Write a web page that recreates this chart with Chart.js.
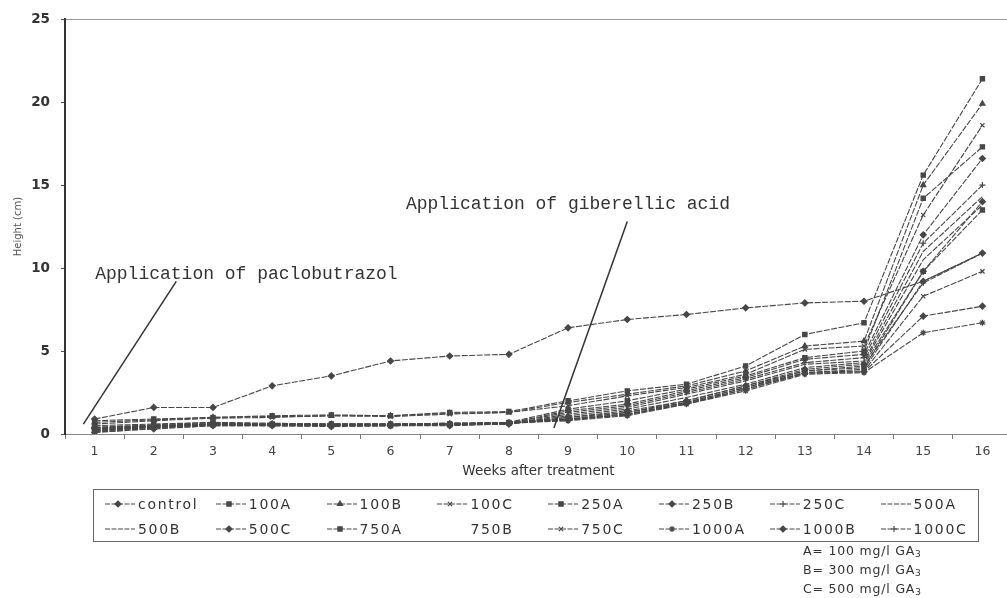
<!DOCTYPE html>
<html><head><meta charset="utf-8">
<script src="https://cdn.jsdelivr.net/npm/chart.js@4.4.0/dist/chart.umd.min.js"></script>
<style>
html,body{margin:0;padding:0;background:#fff;overflow:hidden;width:1007px;height:598px;}
#wrap{position:absolute;left:0;top:0;width:1020px;height:598px;}
#legend{position:absolute;left:93px;top:489px;width:886px;height:53px;border:1px solid #666;box-sizing:border-box;font-family:'DejaVu Sans',sans-serif;font-size:14px;color:#333;letter-spacing:1.7px;}
.item{position:absolute;height:16px;display:flex;align-items:center;white-space:nowrap;}
.item canvas{margin-right:2px;}
#note{position:absolute;left:803px;top:542px;font-family:'DejaVu Sans',sans-serif;font-size:12.5px;color:#333;line-height:18px;letter-spacing:0.8px;}
#note sub{font-size:9px;vertical-align:baseline;position:relative;top:2px;}
</style></head><body>
<div id="wrap"><canvas id="c"></canvas></div>
<div id="legend"></div>
<div id="note">A= 100 mg/l GA<sub>3</sub><br>B= 300 mg/l GA<sub>3</sub><br>C= 500 mg/l GA<sub>3</sub></div>
<script>
// ---- data ----
const weeks = ['1','2','3','4','5','6','7','8','9','10','11','12','13','14','15','16'];
const yTicks = [0,5,10,15,20,25];
const seriesNames = ['control','100A','100B','100C','250A','250B','250C','500A','500B','500C','750A','750B','750C','1000A','1000B','1000C'];
const control = [0.9,1.6,1.6,2.9,3.5,4.4,4.7,4.8,6.4,6.9,7.2,7.6,7.9,8.0,9.2,10.9];
const s100A  = [0.8,0.9,1.0,1.1,1.15,1.1,1.3,1.35,2.0,2.6,3.0,4.1,6.0,6.7,15.6,21.4];
const s100B  = [0.7,0.85,1.0,1.05,1.1,1.1,1.25,1.3,1.9,2.4,2.9,3.8,5.3,5.6,15.0,19.9];
const s100C  = [0.6,0.8,0.95,1.0,1.1,1.05,1.2,1.3,1.7,2.3,2.8,3.6,5.1,5.3,13.2,18.6];
const s250A  = [0.5,0.6,0.7,0.6,0.6,0.6,0.6,0.7,1.5,2.0,2.7,3.5,4.6,5.0,14.2,17.3];
const s250B  = [0.4,0.5,0.6,0.55,0.55,0.55,0.6,0.65,1.4,1.8,2.6,3.4,4.5,4.8,12.0,16.6];
const s250C  = [0.3,0.45,0.6,0.55,0.55,0.55,0.6,0.65,1.3,1.7,2.5,3.3,4.3,4.6,11.5,15.0];
const s500A  = [0.2,0.4,0.55,0.5,0.5,0.5,0.55,0.6,1.2,1.6,2.4,3.2,4.2,4.4,11.0,14.3];
const s500B  = [0.1,0.35,0.5,0.5,0.5,0.5,0.55,0.6,1.1,1.5,2.2,3.0,4.0,4.3,10.5,13.8];
const s500C  = [0.1,0.3,0.5,0.5,0.45,0.5,0.5,0.6,1.0,1.4,2.0,2.9,3.9,4.2,9.8,14.0];
const s750A  = [0.15,0.4,0.55,0.55,0.5,0.5,0.55,0.65,1.0,1.3,1.9,2.8,3.8,4.0,9.8,13.5];
const s750B  = [0.2,0.45,0.6,0.6,0.55,0.55,0.6,0.65,0.9,1.2,1.8,2.7,3.7,3.9,9.2,10.9];
const s750C  = [0.3,0.5,0.65,0.6,0.6,0.6,0.65,0.7,0.85,1.2,1.9,2.8,3.7,3.8,8.3,9.8];
const s1000A = [0.25,0.45,0.6,0.55,0.55,0.55,0.6,0.65,0.8,1.1,1.8,2.6,3.6,3.7,6.1,6.7];
const s1000B = [0.35,0.5,0.6,0.6,0.6,0.6,0.6,0.65,0.85,1.15,1.85,2.7,3.65,3.75,7.1,7.7];
const s1000C = [0.4,0.55,0.7,0.65,0.6,0.6,0.65,0.7,0.9,1.3,2.0,2.9,3.8,4.1,9.1,10.9];
const seriesValues = [control,s100A,s100B,s100C,s250A,s250B,s250C,s500A,s500B,s500C,s750A,s750B,s750C,s1000A,s1000B,s1000C];

// ---- styles ----
const markers = ['rectRot','rect','triangle','crossRot','rect','rectRot','cross',false,false,'rectRot','rect',false,'crossRot','star','rectRot','cross'];
const legendHidden = [false,false,false,false,false,false,false,false,false,false,false,true,false,false,false,false];
const lineColor = '#474747';
const notes = [
  {text:'Application of paclobutrazol', at:[0.01, 9.35], from:[1.38, 9.2], to:[-0.19, 0.6]},
  {text:'Application of giberellic acid', at:[5.26, 13.55], from:[9.0, 12.8], to:[7.76, 0.36]}
];

const datasets = seriesNames.map((name,i)=>({
  label:name,
  data:seriesValues[i],
  borderColor:lineColor,
  backgroundColor:lineColor,
  pointBackgroundColor:lineColor,
  pointBorderColor:lineColor,
  borderWidth:1.1,
  borderDash:[6,1.5],
  pointStyle:markers[i] || 'circle',
  pointRadius:markers[i] ? 3 : 0,
  pointBorderWidth:1.2,
  tension:0
}));

const notePlugin = {
  id:'notes',
  afterDatasetsDraw(chart){
    const ctx = chart.ctx, xs = chart.scales.x, ys = chart.scales.y;
    ctx.save();
    ctx.strokeStyle = '#333'; ctx.lineWidth = 1.5; ctx.fillStyle = '#333';
    ctx.font = '18px "Liberation Mono", monospace';
    ctx.textBaseline = 'alphabetic'; ctx.textAlign = 'left';
    notes.forEach(n=>{
      ctx.fillText(n.text, xs.getPixelForValue(n.at[0]), ys.getPixelForValue(n.at[1]));
      ctx.beginPath();
      ctx.moveTo(xs.getPixelForValue(n.from[0]), ys.getPixelForValue(n.from[1]));
      ctx.lineTo(xs.getPixelForValue(n.to[0]), ys.getPixelForValue(n.to[1]));
      ctx.stroke();
    });
    ctx.restore();
  }
};

const chart = new Chart(document.getElementById('c'), {
  type:'line',
  data:{labels:weeks, datasets},
  plugins:[notePlugin],
  options:{
    responsive:true, maintainAspectRatio:false, animation:false,
    layout:{padding:{left:0,right:8,top:17,bottom:114}},
    plugins:{legend:{display:false}, tooltip:{enabled:false}},
    scales:{
      x:{
        type:'category', offset:true,
        afterFit(s){ s.height = 50; },
        grid:{display:true, drawOnChartArea:false, drawTicks:true, tickLength:5, offset:true, color:'#777'},
        border:{display:true, color:'#888', width:1},
        ticks:{color:'#444', font:{family:'DejaVu Sans', size:12.5}, padding:5, maxRotation:0, autoSkip:false},
        title:{display:true, text:'Weeks after treatment', color:'#333', font:{family:'DejaVu Sans', size:13.5}, padding:{top:2,bottom:4}}
      },
      y:{
        min:0, max:25,
        afterFit(s){ s.width = 65; },
        afterBuildTicks(s){ s.ticks = yTicks.map(v=>({value:v})); },
        grid:{display:true, drawOnChartArea:true, drawTicks:true, tickLength:4,
              color:(c)=> (c.tick && c.tick.value===25) ? '#999' : 'rgba(0,0,0,0)', tickColor:'#555'},
        border:{display:true, color:'#333', width:2},
        ticks:{color:'#333', font:{family:'DejaVu Sans', size:13.5, weight:'bold'}, padding:11},
        title:{display:true, text:'Height (cm)', color:'#555', font:{family:'DejaVu Sans', size:10}, padding:{top:12,bottom:0}}
      }
    }
  }
});

// ---- legend ----
const legend = document.getElementById('legend');
seriesNames.forEach((name,i)=>{
  const col = i % 8, row = Math.floor(i/8);
  const it = document.createElement('div');
  it.className = 'item';
  it.style.left = (10 + col*110.8) + 'px';
  it.style.top = (6 + row*25) + 'px';
  const cv = document.createElement('canvas');
  cv.width = 32; cv.height = 14;
  cv.style.width = '32px'; cv.style.height = '14px';
  if (!legendHidden[i]) {
    const g = cv.getContext('2d');
    g.strokeStyle = lineColor; g.fillStyle = lineColor; g.lineWidth = 1.2;
    g.setLineDash([5,1.5]);
    g.beginPath(); g.moveTo(1,7); g.lineTo(31,7); g.stroke();
    g.setLineDash([]);
    if (markers[i] && Chart.helpers && Chart.helpers.drawPoint) {
      Chart.helpers.drawPoint(g, {pointStyle:markers[i], radius:3, rotation:0, borderWidth:1.2}, 14, 7);
    }
  }
  it.appendChild(cv);
  const sp = document.createElement('span');
  sp.textContent = name;
  it.appendChild(sp);
  legend.appendChild(it);
});
</script>
</body></html>
